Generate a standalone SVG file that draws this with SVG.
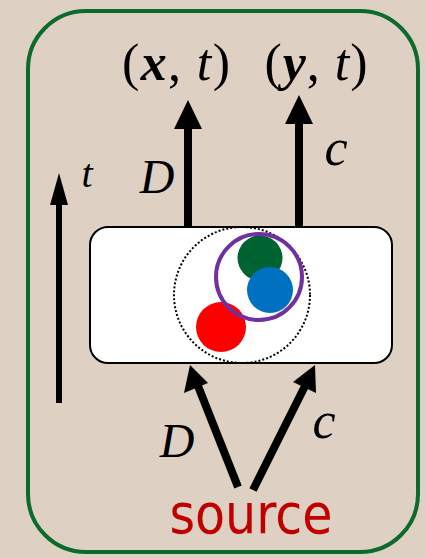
<svg xmlns="http://www.w3.org/2000/svg" width="426" height="558" viewBox="0 0 426 558">
<defs>
<style>
.m{font-family:"Liberation Serif","Times New Roman",serif;fill:#000}
.i{font-style:italic}
.b{font-weight:bold}
.arrow{stroke:#000;fill:none}
.head{fill:#000}
</style>
</defs>
<rect x="0" y="0" width="426" height="558" fill="#dfd0c4"/>
<g id="frame">
<rect x="28" y="11" width="390" height="541" rx="58" ry="58" fill="none" stroke="#0b6a2c" stroke-width="4"/>
</g>
<g id="connectors">
<line class="arrow" x1="188" y1="227" x2="188" y2="124" stroke-width="8"/>
<polygon class="head" points="188,100 174,129 202,129"/>
<line class="arrow" x1="299" y1="227" x2="299" y2="119" stroke-width="8"/>
<polygon class="head" points="299,95 285,124 313,124"/>
<line class="arrow" x1="59" y1="403" x2="59" y2="200" stroke-width="6"/>
<polygon class="head" points="59,173 50,205 68,205"/>
<line class="arrow" x1="238" y1="487" x2="198" y2="386" stroke-width="8"/>
<polygon class="head" points="190,365 184,393 208,383"/>
<line class="arrow" x1="253" y1="490" x2="305" y2="386" stroke-width="8"/>
<polygon class="head" points="315,365 293,382 316,393"/>
</g>
<g id="box">
<rect x="90" y="227" width="302" height="136" rx="18" ry="18" fill="#fff" stroke="#000" stroke-width="2"/>
<circle cx="242" cy="295" r="68" fill="none" stroke="#000" stroke-width="2" stroke-dasharray="2 2"/>
<circle cx="221" cy="327" r="25" fill="#ff0000"/>
<circle cx="260" cy="258" r="22.5" fill="#006432"/>
<circle cx="270" cy="290" r="23" fill="#0070c0"/>
<circle cx="259" cy="277" r="43" fill="none" stroke="#7030a0" stroke-width="4"/>
</g>
<g id="labels">
<text class="m" x="176" y="80" font-size="52" text-anchor="middle" textLength="108" lengthAdjust="spacing">(<tspan class="b i">x</tspan>, <tspan class="i">t</tspan>)</text>
<text class="m" x="316" y="80" font-size="52" text-anchor="middle" textLength="103" lengthAdjust="spacing">(<tspan class="b i">y</tspan>, <tspan class="i">t</tspan>)</text>
<text class="m i" x="157" y="193" font-size="48" text-anchor="middle">D</text>
<text class="m i" x="336" y="165" font-size="52" text-anchor="middle">c</text>
<text class="m i" x="87" y="187" font-size="40" text-anchor="middle">t</text>
<text class="m i" x="177" y="457" font-size="48" text-anchor="middle">D</text>
<text class="m i" x="324" y="438" font-size="52" text-anchor="middle">c</text>
<text x="251" y="533" font-family="'DejaVu Sans',Verdana,sans-serif" font-size="56" fill="#c00000" text-anchor="middle" textLength="163" lengthAdjust="spacingAndGlyphs">source</text>
</g>
</svg>
